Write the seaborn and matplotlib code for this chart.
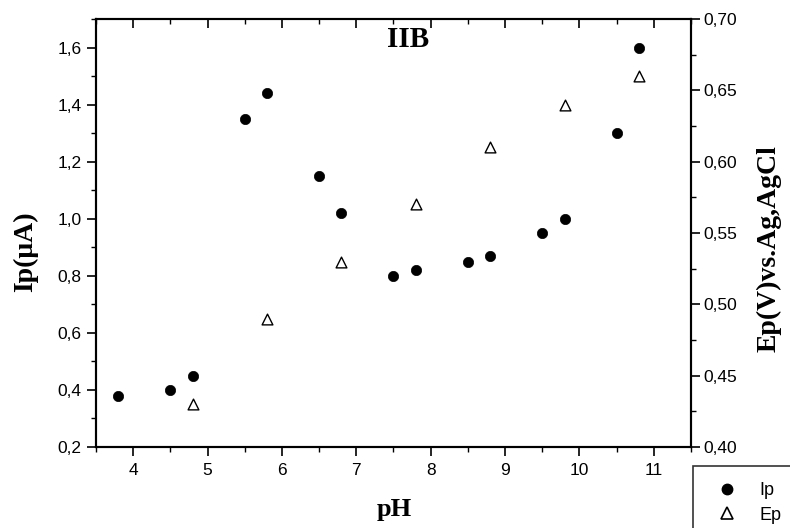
import pandas as pd
import matplotlib
matplotlib.use("Agg")
import matplotlib.pyplot as plt
from matplotlib.ticker import MultipleLocator, FuncFormatter
from matplotlib.lines import Line2D
import seaborn as sns

# data
ph_ip = [3.8, 4.5, 4.8, 5.5, 5.8, 6.5, 6.8, 7.5, 7.8, 8.5, 8.8, 9.5, 9.8, 10.5, 10.8]
ip = [0.38, 0.40, 0.45, 1.35, 1.44, 1.15, 1.02, 0.80, 0.82, 0.85, 0.87, 0.95, 1.00, 1.30, 1.60]
ph_ep = [4.8, 5.8, 6.8, 7.8, 8.8, 9.8, 10.8]
ep = [0.43, 0.49, 0.53, 0.57, 0.61, 0.64, 0.66]

df_ip = pd.DataFrame({"pH": ph_ip, "Ip": ip})
df_ep = pd.DataFrame({"pH": ph_ep, "Ep": ep})

sns.set_style("ticks")
plt.rcParams['font.family'] = ['Liberation Sans', 'DejaVu Sans']
plt.rcParams['text.color'] = 'black'
plt.rcParams['axes.labelcolor'] = 'black'
serif = ['Liberation Serif', 'DejaVu Serif']

fig = plt.figure(figsize=(7.9, 5.28), dpi=100)
ax = fig.add_axes([0.1215, 0.1534, 0.7532, 0.8106])
ax2 = ax.twinx()

sns.scatterplot(data=df_ip, x="pH", y="Ip", ax=ax, marker="o", s=55,
                color="black", edgecolor="black", linewidth=0.5, zorder=3)
sns.scatterplot(data=df_ep, x="pH", y="Ep", ax=ax2, marker="^", s=60,
                facecolor="white", edgecolor="black", linewidth=1.0, zorder=3)

ax.set_xlim(3.5, 11.5)
ax.set_ylim(0.2, 1.7)
ax2.set_ylim(0.40, 0.70)

ax.xaxis.set_major_locator(MultipleLocator(1))
ax.xaxis.set_minor_locator(MultipleLocator(0.5))
ax.yaxis.set_major_locator(MultipleLocator(0.2))
ax.yaxis.set_minor_locator(MultipleLocator(0.1))
ax2.yaxis.set_major_locator(MultipleLocator(0.05))
ax2.yaxis.set_minor_locator(MultipleLocator(0.025))

ax.yaxis.set_major_formatter(FuncFormatter(lambda v, p: f"{v:.1f}".replace('.', ',')))
ax2.yaxis.set_major_formatter(FuncFormatter(lambda v, p: f"{v:.2f}".replace('.', ',')))

for a in (ax, ax2):
    for s in a.spines.values():
        s.set_visible(True)
        s.set_linewidth(1.5)
        s.set_color("black")
ax.tick_params(axis="both", which="major", direction="out", length=6.5, width=1.2,
               labelsize=12.5, colors="black")
ax.tick_params(axis="both", which="minor", direction="out", length=3.5, width=1.0,
               colors="black")
ax.tick_params(axis="x", which="both", top=True, pad=5)
ax.tick_params(axis="y", which="major", pad=4)
ax2.tick_params(axis="y", which="major", direction="out", length=6.5, width=1.2,
                labelsize=12.5, colors="black", pad=2.5)
ax2.tick_params(axis="y", which="minor", direction="out", length=3.5, width=1.0,
                colors="black")
# top ticks point inward
for t in ax.xaxis.get_major_ticks() + ax.xaxis.get_minor_ticks():
    t.tick2line.set_marker(3)

ax.set_xlabel("pH", fontsize=19, fontweight="bold", family=serif, color="black")
ax.set_ylabel("Ip(\u03bcA)", fontsize=20, fontweight="bold", family=serif, color="black")
ax2.set_ylabel("Ep(V)vs.Ag,AgCl", fontsize=20, fontweight="bold", family=serif, color="black")
ax.xaxis.set_label_coords(0.502, -0.147)
ax.xaxis.label.set_va("center")
ax.yaxis.set_label_coords(-0.118, 0.456)
ax.yaxis.label.set_va("center")
ax2.yaxis.set_label_coords(1.131, 0.463)
ax2.yaxis.label.set_va("center")

ax.text(0.524, 0.951, "IIB", transform=ax.transAxes, ha="center", va="center",
        fontsize=21, fontweight="bold", family=serif, color="black")

handles = [
    Line2D([], [], marker="o", linestyle="none", color="black", markersize=7.5),
    Line2D([], [], marker="^", linestyle="none", markerfacecolor="white",
           markeredgecolor="black", markeredgewidth=1.2, markersize=9),
]
leg = fig.legend(handles, ["Ip", "Ep"], loc="upper left", bbox_to_anchor=(0.877, 0.117),
                 fontsize=13, frameon=True, fancybox=False, handletextpad=0.8,
                 borderpad=0.9, labelspacing=0.4, borderaxespad=0)
leg.get_frame().set_edgecolor("black")
leg.get_frame().set_linewidth(1.2)

fig.savefig("out.png", dpi=100)
